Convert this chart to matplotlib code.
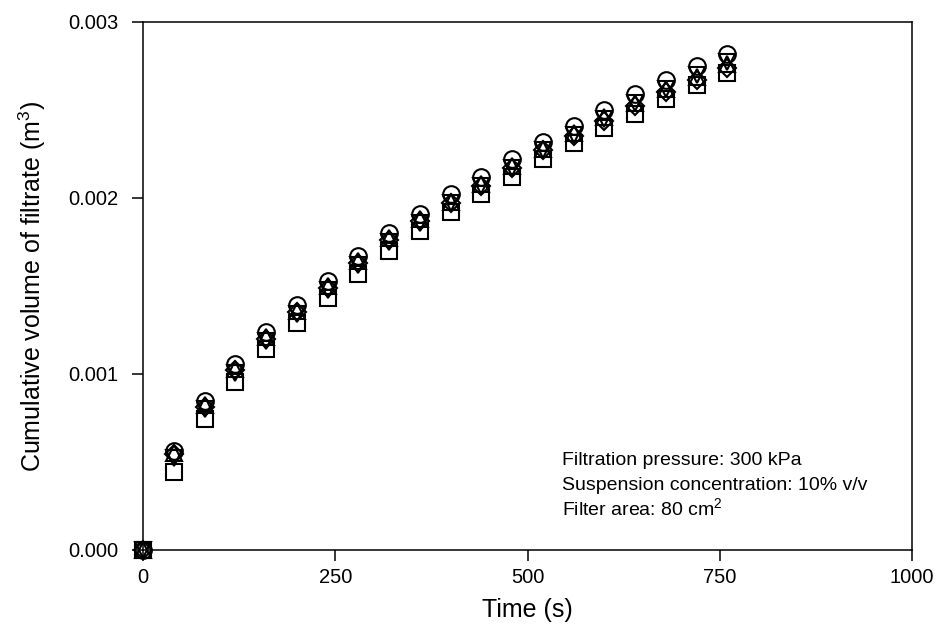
import matplotlib
matplotlib.use("Agg")
import matplotlib.pyplot as plt
from matplotlib.ticker import FormatStrFormatter
import numpy as np

plt.rcParams['font.family'] = ['Liberation Sans', 'DejaVu Sans']
plt.rcParams['mathtext.fontset'] = 'custom'
plt.rcParams['mathtext.rm'] = 'Liberation Sans'
plt.rcParams['mathtext.default'] = 'regular'

# time points (s)
time_s = [0, 40, 80, 120, 160, 200, 240, 280, 320, 360,
          400, 440, 480, 520, 560, 600, 640, 680, 720, 760]

# cumulative filtrate volume (m3), one list per run
vol_circle = [0.0, 0.000565, 0.000845, 0.001055, 0.001237, 0.00139, 0.00153, 0.00167,
              0.00180, 0.00191, 0.00202, 0.00212, 0.00222, 0.00232, 0.00241, 0.00250,
              0.00259, 0.00267, 0.00275, 0.00282]
vol_tri_down = [0.0, 0.000520, 0.000800, 0.001005, 0.001190, 0.00134, 0.00148, 0.00162,
                0.00175, 0.00186, 0.00197, 0.00207, 0.00217, 0.00227, 0.00236, 0.00245,
                0.00254, 0.00262, 0.00270, 0.00277]
vol_square = [0.0, 0.000442, 0.000743, 0.000953, 0.001140, 0.00129, 0.00143, 0.00157,
              0.00170, 0.00181, 0.00192, 0.00202, 0.00212, 0.00222, 0.00231, 0.00240,
              0.00248, 0.00256, 0.00264, 0.00271]
vol_diamond = [0.0, 0.000545, 0.000815, 0.001020, 0.001200, 0.00135, 0.00149, 0.00163,
               0.00176, 0.00187, 0.00197, 0.00207, 0.00217, 0.00227, 0.00235, 0.00244,
               0.00252, 0.00260, 0.00267, 0.00274]
vol_tri_up = [0.0, 0.000550, 0.000825, 0.001030, 0.001210, 0.00136, 0.00150, 0.00164,
              0.00177, 0.00188, 0.00198, 0.00208, 0.00218, 0.00228, 0.00237, 0.00246,
              0.00254, 0.00262, 0.00269, 0.00276]

series = [(vol_square, 's'), (vol_tri_down, 'v'), (vol_diamond, 'D'),
          (vol_tri_up, '^'), (vol_circle, 'o')]

notes = ['Filtration pressure: 300 kPa',
         'Suspension concentration: 10% v/v',
         'Filter area: 80 cm$^2$']

fig = plt.figure(figsize=(9.39, 6.41), dpi=100)
ax = fig.add_axes([0.1523, 0.142, 0.819, 0.8237])

for vals, mk in series:
    ms = 9.2 if mk == 'D' else 12
    ax.plot(time_s, vals, linestyle='none', marker=mk, markersize=ms,
            markerfacecolor='none', markeredgecolor='black', markeredgewidth=1.5,
            clip_on=False)

ax.set_xlim(0, 1000)
ax.set_ylim(0, 0.003)
ax.set_xticks([0, 250, 500, 750, 1000])
ax.set_yticks([0.0, 0.001, 0.002, 0.003])
ax.yaxis.set_major_formatter(FormatStrFormatter('%.3f'))
ax.tick_params(direction='out', length=8, width=1.1, labelsize=14.5)
ax.tick_params(axis='y', pad=9.5)
ax.tick_params(axis='x', pad=5)
for sp in ax.spines.values():
    sp.set_linewidth(1.1)

ax.set_xlabel('Time (s)', fontsize=18, labelpad=8)
ax.set_ylabel('Cumulative volume of filtrate (m$^3$)', fontsize=18, labelpad=15)

for i, line in enumerate(notes):
    ax.text(0.545, 0.161 - i * 0.0474, line, transform=ax.transAxes,
            fontsize=14, va='baseline', ha='left')

fig.savefig('out.png', dpi=100)
